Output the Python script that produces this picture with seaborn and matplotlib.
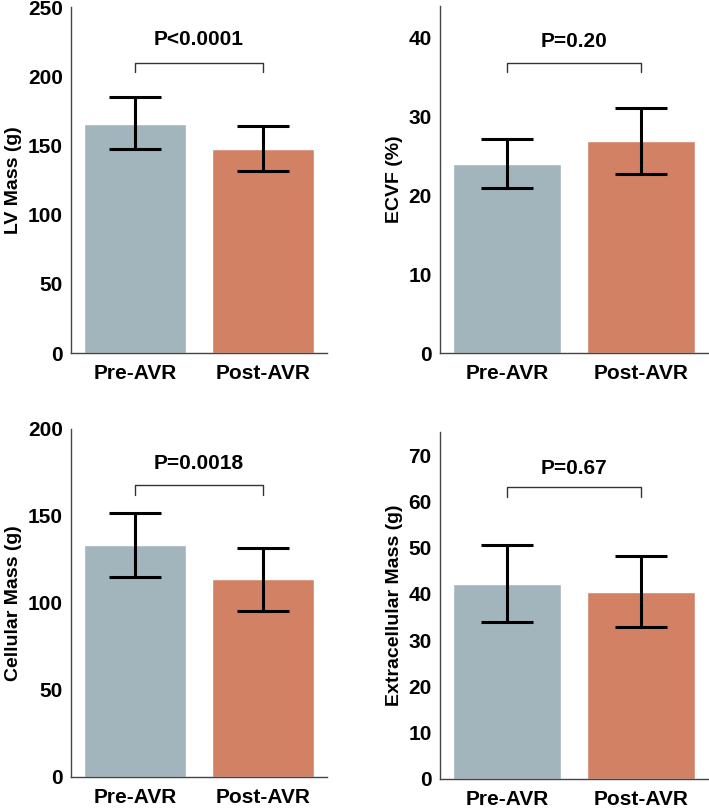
import matplotlib
matplotlib.use("Agg")
import matplotlib.pyplot as plt
import seaborn as sns
import numpy as np

# Data
groups = ["Pre-AVR", "Post-AVR"]

lv_mass = [165.8, 147.4]
lv_mass_low = [147.3, 131.4]
lv_mass_high = [184.8, 164.0]

ecvf = [24.0, 26.9]
ecvf_low = [20.95, 22.7]
ecvf_high = [27.1, 31.1]

cell_mass = [133.2, 113.6]
cell_mass_low = [115.0, 95.4]
cell_mass_high = [151.6, 131.7]

ecm_mass = [42.2, 40.4]
ecm_mass_low = [33.9, 32.9]
ecm_mass_high = [50.5, 48.2]

p_labels = ["P<0.0001", "P=0.20", "P=0.0018", "P=0.67"]
y_labels = ["LV Mass (g)", "ECVF (%)", "Cellular Mass (g)", "Extracellular Mass (g)"]
y_limits = [(0, 250), (0, 44), (0, 200), (0, 75)]
y_ticks = [np.arange(0, 251, 50), np.arange(0, 41, 10), np.arange(0, 201, 50), np.arange(0, 71, 10)]
# bracket height, bracket tick bottom, p-text height
brackets = [(210, 203, 227), (36.8, 35.6, 39.5), (168, 162, 180), (63, 60.9, 67)]

colors = ["#A2B4BC", "#D28164"]

sns.set_style("white")
plt.rcParams['font.family'] = ['Liberation Sans', 'DejaVu Sans']
plt.rcParams['font.weight'] = 'bold'
plt.rcParams['text.color'] = 'black'
plt.rcParams['axes.labelcolor'] = 'black'
plt.rcParams['xtick.color'] = 'black'
plt.rcParams['ytick.color'] = 'black'

fig = plt.figure(figsize=(7.09, 8.08), dpi=100)
positions = [
    [0.1001, 0.5631, 0.361, 0.428],
    [0.6206, 0.5631, 0.378, 0.4295],
    [0.1001, 0.0384, 0.361, 0.4307],
    [0.6206, 0.0359, 0.378, 0.4295],
]

panels = [
    (lv_mass, lv_mass_low, lv_mass_high),
    (ecvf, ecvf_low, ecvf_high),
    (cell_mass, cell_mass_low, cell_mass_high),
    (ecm_mass, ecm_mass_low, ecm_mass_high),
]

for i, (means, low, high) in enumerate(panels):
    ax = fig.add_axes(positions[i])
    sns.barplot(x=groups, y=means, hue=groups, palette=colors, legend=False,
                width=0.8, saturation=1, ax=ax)
    xs = np.arange(len(groups))
    yerr = [np.array(means) - np.array(low), np.array(high) - np.array(means)]
    ax.errorbar(xs, means, yerr=yerr, fmt='none', ecolor='black',
                elinewidth=2.2, capsize=19, capthick=2.2, zorder=5)
    # significance bracket
    yb, yt, yp = brackets[i]
    ax.plot([0, 0, 1, 1], [yt, yb, yb, yt], color='#333333', lw=1.0)
    ax.text(0.5, yp, p_labels[i], ha='center', va='center', fontsize=15,
            fontweight='bold', color='black')
    ax.set_xlim(-0.5, 1.5)
    ax.set_ylim(*y_limits[i])
    ax.set_yticks(y_ticks[i])
    ax.set_ylabel(y_labels[i], fontsize=14, fontweight='bold', labelpad=4)
    ax.set_xlabel("")
    for side in ['top', 'right']:
        ax.spines[side].set_visible(False)
    for side in ['left', 'bottom']:
        ax.spines[side].set_color('#444444')
        ax.spines[side].set_linewidth(1.0)
    ax.tick_params(axis='y', direction='in', length=4, width=0.8, labelsize=15, pad=6)
    ax.tick_params(axis='x', length=0, labelsize=15, pad=8)
    for lab in ax.get_xticklabels() + ax.get_yticklabels():
        lab.set_fontweight('bold')

fig.savefig("out.png", dpi=100)
